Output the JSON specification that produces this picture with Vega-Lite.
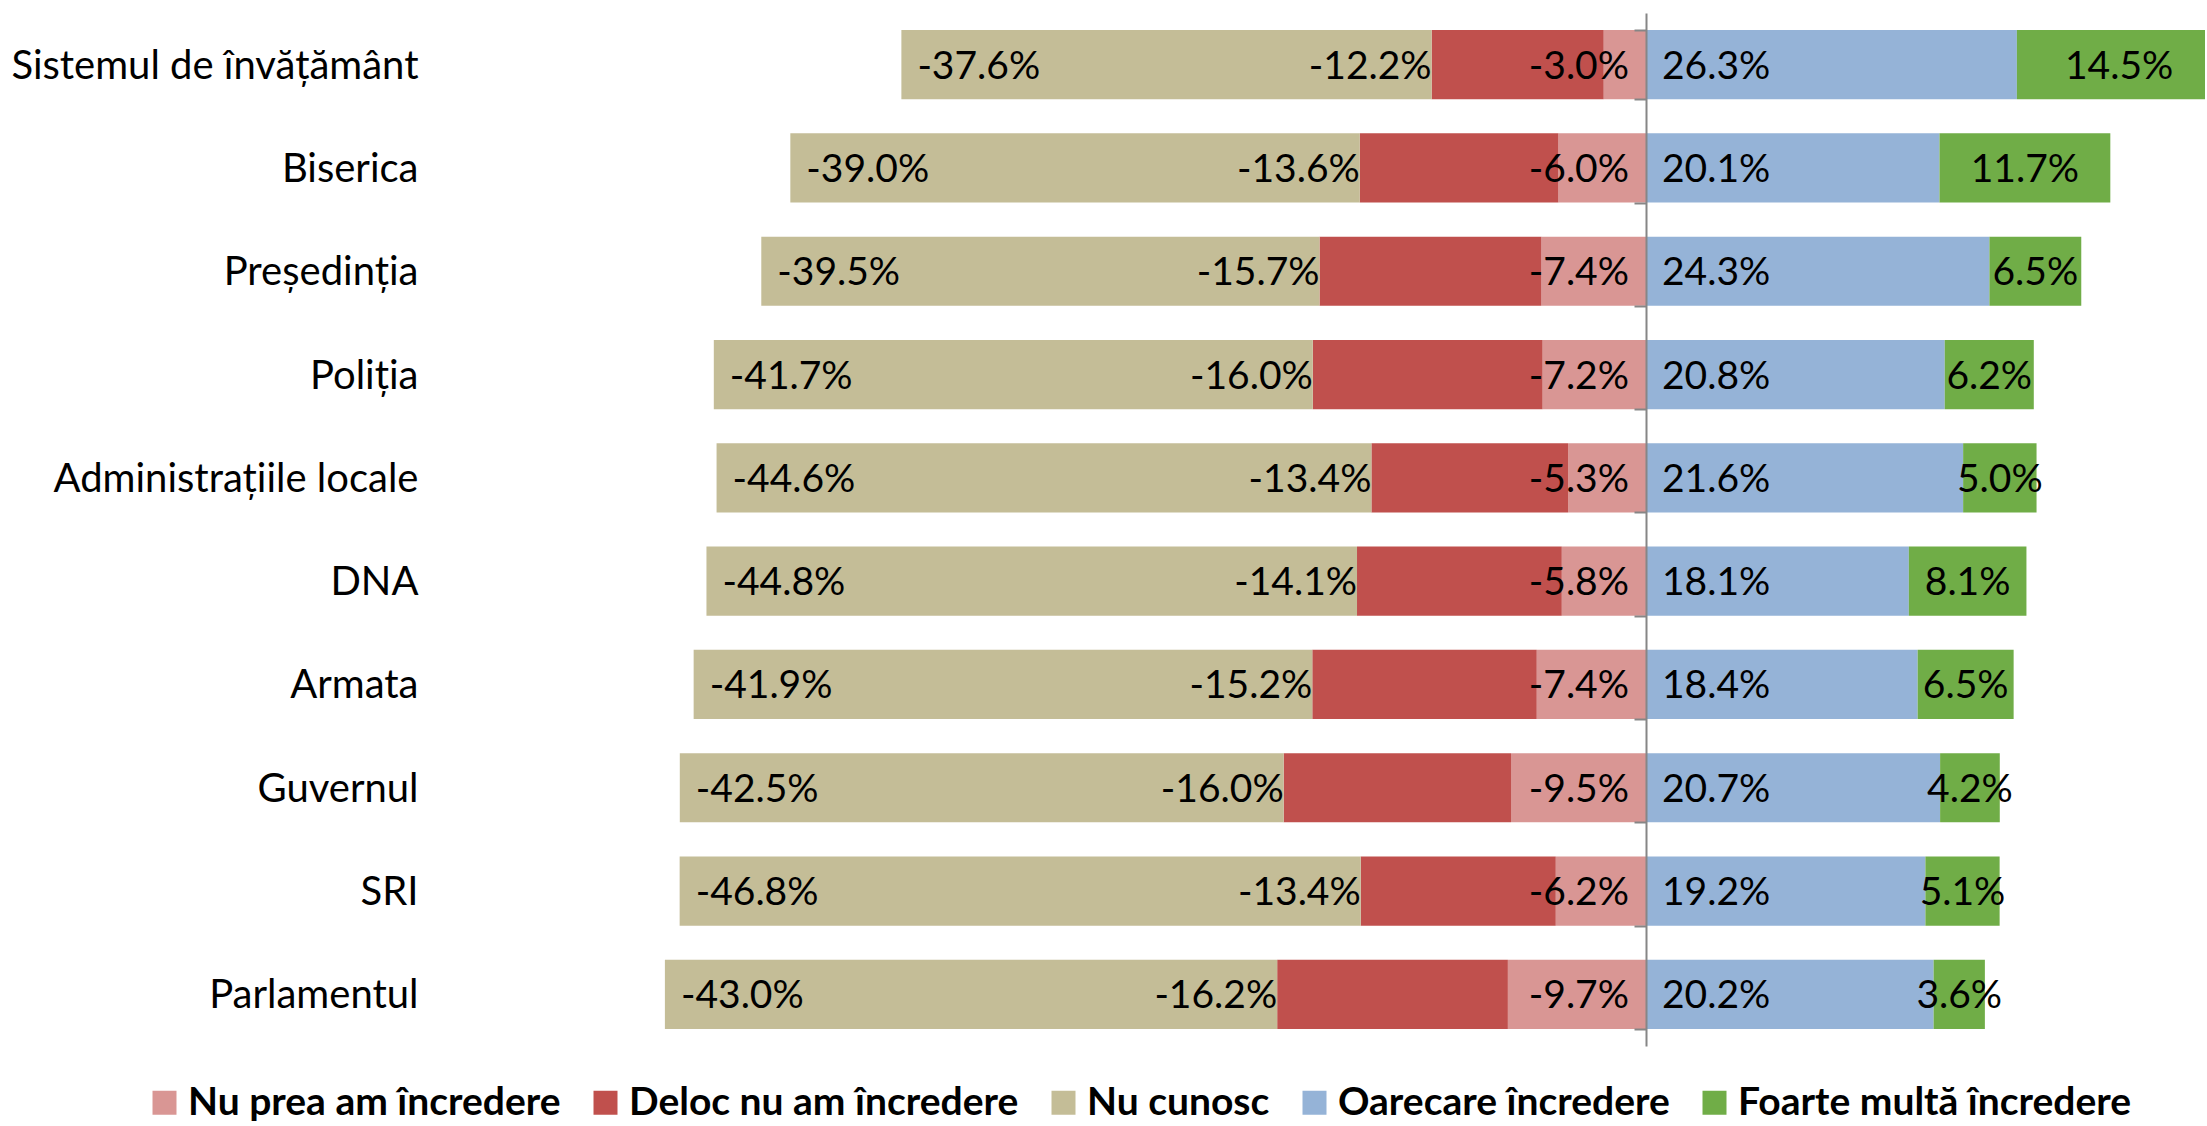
{
  "$schema": "https://vega.github.io/schema/vega-lite/v6.json",
  "autosize": "none",
  "padding": {"left": 458, "top": 13, "right": 2, "bottom": 80},
  "width": 1747,
  "height": 1033,
  "background": "white",
  "config": {"view": {"stroke": null}, "font": "Lato"},
  "data": {"values": [
    {"c": "Sistemul de învățământ", "s": "Nu prea am încredere", "v": -3.0},
    {"c": "Sistemul de învățământ", "s": "Deloc nu am încredere", "v": -12.2},
    {"c": "Sistemul de învățământ", "s": "Nu cunosc", "v": -37.6},
    {"c": "Sistemul de învățământ", "s": "Oarecare încredere", "v": 26.3},
    {"c": "Sistemul de învățământ", "s": "Foarte multă încredere", "v": 14.5},
    {"c": "Biserica", "s": "Nu prea am încredere", "v": -6.0},
    {"c": "Biserica", "s": "Deloc nu am încredere", "v": -13.6},
    {"c": "Biserica", "s": "Nu cunosc", "v": -39.0},
    {"c": "Biserica", "s": "Oarecare încredere", "v": 20.1},
    {"c": "Biserica", "s": "Foarte multă încredere", "v": 11.7},
    {"c": "Președinția", "s": "Nu prea am încredere", "v": -7.4},
    {"c": "Președinția", "s": "Deloc nu am încredere", "v": -15.7},
    {"c": "Președinția", "s": "Nu cunosc", "v": -39.5},
    {"c": "Președinția", "s": "Oarecare încredere", "v": 24.3},
    {"c": "Președinția", "s": "Foarte multă încredere", "v": 6.5},
    {"c": "Poliția", "s": "Nu prea am încredere", "v": -7.2},
    {"c": "Poliția", "s": "Deloc nu am încredere", "v": -16.0},
    {"c": "Poliția", "s": "Nu cunosc", "v": -41.7},
    {"c": "Poliția", "s": "Oarecare încredere", "v": 20.8},
    {"c": "Poliția", "s": "Foarte multă încredere", "v": 6.2},
    {"c": "Administrațiile locale", "s": "Nu prea am încredere", "v": -5.3},
    {"c": "Administrațiile locale", "s": "Deloc nu am încredere", "v": -13.4},
    {"c": "Administrațiile locale", "s": "Nu cunosc", "v": -44.6},
    {"c": "Administrațiile locale", "s": "Oarecare încredere", "v": 21.6},
    {"c": "Administrațiile locale", "s": "Foarte multă încredere", "v": 5.0},
    {"c": "DNA", "s": "Nu prea am încredere", "v": -5.8},
    {"c": "DNA", "s": "Deloc nu am încredere", "v": -14.1},
    {"c": "DNA", "s": "Nu cunosc", "v": -44.8},
    {"c": "DNA", "s": "Oarecare încredere", "v": 18.1},
    {"c": "DNA", "s": "Foarte multă încredere", "v": 8.1},
    {"c": "Armata", "s": "Nu prea am încredere", "v": -7.4},
    {"c": "Armata", "s": "Deloc nu am încredere", "v": -15.2},
    {"c": "Armata", "s": "Nu cunosc", "v": -41.9},
    {"c": "Armata", "s": "Oarecare încredere", "v": 18.4},
    {"c": "Armata", "s": "Foarte multă încredere", "v": 6.5},
    {"c": "Guvernul", "s": "Nu prea am încredere", "v": -9.5},
    {"c": "Guvernul", "s": "Deloc nu am încredere", "v": -16.0},
    {"c": "Guvernul", "s": "Nu cunosc", "v": -42.5},
    {"c": "Guvernul", "s": "Oarecare încredere", "v": 20.7},
    {"c": "Guvernul", "s": "Foarte multă încredere", "v": 4.2},
    {"c": "SRI", "s": "Nu prea am încredere", "v": -6.2},
    {"c": "SRI", "s": "Deloc nu am încredere", "v": -13.4},
    {"c": "SRI", "s": "Nu cunosc", "v": -46.8},
    {"c": "SRI", "s": "Oarecare încredere", "v": 19.2},
    {"c": "SRI", "s": "Foarte multă încredere", "v": 5.1},
    {"c": "Parlamentul", "s": "Nu prea am încredere", "v": -9.7},
    {"c": "Parlamentul", "s": "Deloc nu am încredere", "v": -16.2},
    {"c": "Parlamentul", "s": "Nu cunosc", "v": -43.0},
    {"c": "Parlamentul", "s": "Oarecare încredere", "v": 20.2},
    {"c": "Parlamentul", "s": "Foarte multă încredere", "v": 3.6}
  ]},
  "transform": [
    {"calculate": "indexof(['Nu prea am încredere','Deloc nu am încredere','Nu cunosc','Oarecare încredere','Foarte multă încredere'], datum.s)", "as": "o"},
    {"calculate": "abs(datum.v)", "as": "a"},
    {"joinaggregate": [{"op": "sum", "field": "a", "as": "t"}], "groupby": ["c"]},
    {"calculate": "100 * datum.v / datum.t", "as": "share"},
    {"stack": "share", "groupby": ["c"], "sort": [{"field": "o", "order": "ascending"}], "as": ["s0", "s1"]},
    {"calculate": "(datum.s0 + datum.s1) / 2", "as": "mid"},
    {"calculate": "(datum.v < 0 ? '-' : '') + format(abs(datum.v), '.1f') + '%'", "as": "lab"}
  ],
  "resolve": {"axis": {"y": "independent"}},
  "layer": [
    {
      "mark": {"type": "bar", "clip": true},
      "encoding": {
        "y": {"field": "c", "type": "nominal",
          "sort": ["Sistemul de învățământ", "Biserica", "Președinția", "Poliția", "Administrațiile locale", "DNA", "Armata", "Guvernul", "SRI", "Parlamentul"],
          "scale": {"paddingInner": 0.33, "paddingOuter": 0.165},
          "axis": {"orient": "left", "title": null, "domain": false, "ticks": false, "labelFont": "Lato", "labelFontSize": 40, "labelColor": "black", "labelPadding": 40, "labelLimit": 600, "labelOffset": 2}},
        "x": {"field": "s0", "type": "quantitative", "scale": {"domain": [-90, 42.35], "nice": false, "zero": false}, "axis": null},
        "x2": {"field": "s1"},
        "color": {"field": "s", "type": "nominal",
          "scale": {"domain": ["Nu prea am încredere", "Deloc nu am încredere", "Nu cunosc", "Oarecare încredere", "Foarte multă încredere"],
                    "range": ["#D99694", "#C0504D", "#C4BD97", "#95B3D7", "#70AD47"]},
          "legend": {"title": null, "orient": "none", "legendX": -313, "legendY": 1070, "direction": "horizontal",
            "symbolType": "square", "symbolSize": 576, "symbolStrokeWidth": 0, "symbolOpacity": 1,
            "labelFont": "Lato", "labelFontWeight": "bold", "labelFontSize": 39, "labelColor": "black",
            "labelOffset": 4, "columnPadding": 25, "padding": 0, "labelLimit": 600}}
      }
    },
    {
      "transform": [{"filter": "datum.o == 0"}],
      "mark": {"type": "text", "align": "right", "baseline": "middle", "dx": -17, "dy": 2, "font": "Lato", "fontSize": 39, "color": "black"},
      "encoding": {
        "y": {"field": "c", "type": "nominal",
          "sort": ["Sistemul de învățământ", "Biserica", "Președinția", "Poliția", "Administrațiile locale", "DNA", "Armata", "Guvernul", "SRI", "Parlamentul"],
          "axis": {"orient": "left", "offset": -1188, "title": null, "labels": false, "grid": false, "domain": true, "domainColor": "#868686", "domainWidth": 2,
                   "ticks": true, "tickColor": "#868686", "tickWidth": 2, "tickSize": 12, "tickBand": "extent", "zindex": 1}},
        "x": {"field": "s0", "type": "quantitative", "axis": null},
        "text": {"field": "lab"}
      }
    },
    {
      "transform": [{"filter": "datum.o == 1"}],
      "mark": {"type": "text", "align": "right", "baseline": "middle", "dx": 0, "dy": 2, "font": "Lato", "fontSize": 39, "color": "black"},
      "encoding": {
        "y": {"field": "c", "type": "nominal", "sort": ["Sistemul de învățământ", "Biserica", "Președinția", "Poliția", "Administrațiile locale", "DNA", "Armata", "Guvernul", "SRI", "Parlamentul"], "axis": null},
        "x": {"field": "s1", "type": "quantitative", "axis": null},
        "text": {"field": "lab"}
      }
    },
    {
      "transform": [{"filter": "datum.o == 2"}],
      "mark": {"type": "text", "align": "left", "baseline": "middle", "dx": 16, "dy": 2, "font": "Lato", "fontSize": 39, "color": "black"},
      "encoding": {
        "y": {"field": "c", "type": "nominal", "sort": ["Sistemul de învățământ", "Biserica", "Președinția", "Poliția", "Administrațiile locale", "DNA", "Armata", "Guvernul", "SRI", "Parlamentul"], "axis": null},
        "x": {"field": "s1", "type": "quantitative", "axis": null},
        "text": {"field": "lab"}
      }
    },
    {
      "transform": [{"filter": "datum.o == 3"}],
      "mark": {"type": "text", "align": "left", "baseline": "middle", "dx": 16, "dy": 2, "font": "Lato", "fontSize": 39, "color": "black"},
      "encoding": {
        "y": {"field": "c", "type": "nominal", "sort": ["Sistemul de învățământ", "Biserica", "Președinția", "Poliția", "Administrațiile locale", "DNA", "Armata", "Guvernul", "SRI", "Parlamentul"], "axis": null},
        "x": {"field": "s0", "type": "quantitative", "axis": null},
        "text": {"field": "lab"}
      }
    },
    {
      "transform": [{"filter": "datum.o == 4"}],
      "mark": {"type": "text", "align": "center", "baseline": "middle", "dx": 0, "dy": 2, "font": "Lato", "fontSize": 39, "color": "black"},
      "encoding": {
        "y": {"field": "c", "type": "nominal", "sort": ["Sistemul de învățământ", "Biserica", "Președinția", "Poliția", "Administrațiile locale", "DNA", "Armata", "Guvernul", "SRI", "Parlamentul"], "axis": null},
        "x": {"field": "mid", "type": "quantitative", "axis": null},
        "text": {"field": "lab"}
      }
    }
  ]
}
